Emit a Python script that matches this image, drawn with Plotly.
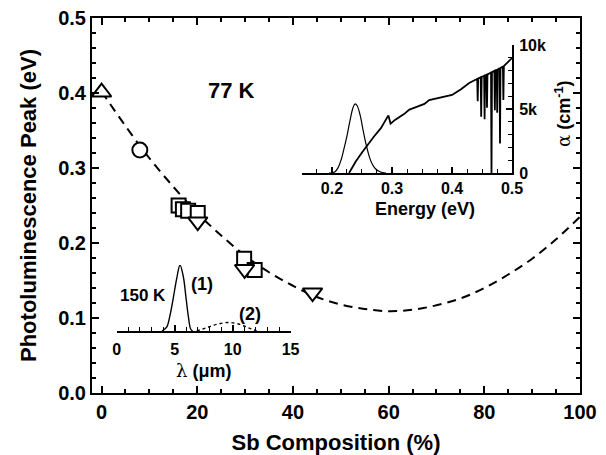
import plotly.graph_objects as go

# ---------------- main data ----------------
tri_up_x = [0.0]
tri_up_y = [0.401]
circle_x = [8.0]
circle_y = [0.324]
square_x = [16.1, 17.0, 18.1, 20.1, 29.8, 32.0]
square_y = [0.250, 0.245, 0.243, 0.240, 0.179, 0.164]
tri_dn_x = [20.1, 29.9, 44.1]
tri_dn_y = [0.2285, 0.165, 0.1337]

fit_x = [0, 5, 10, 15, 20, 25, 30, 35, 40, 45, 50, 55, 60, 65, 70, 75, 80, 85, 90, 95, 100]
fit_y = [0.402, 0.356, 0.313, 0.275, 0.240, 0.210, 0.183, 0.161, 0.143, 0.128, 0.118,
         0.112, 0.109, 0.111, 0.117, 0.126, 0.140, 0.158, 0.179, 0.205, 0.235]

x_ticks = [0, 20, 40, 60, 80, 100]
y_ticks = [0.0, 0.1, 0.2, 0.3, 0.4, 0.5]

# ---------------- inset 1: absorption / PL vs energy ----------------
abs_energy = [0.2285, 0.2340, 0.2396, 0.2500, 0.2590, 0.2700, 0.2815, 0.2900, 0.2940, 0.2976,
              0.3050, 0.3200, 0.3290, 0.3400, 0.3540, 0.3620, 0.3800, 0.4000, 0.4150, 0.4286,
              0.4400, 0.4420, 0.4428, 0.4436, 0.4478, 0.4486, 0.4494, 0.4535, 0.4543, 0.4551,
              0.4575, 0.4583, 0.4591, 0.4650, 0.4658, 0.4666, 0.4706, 0.4714, 0.4722, 0.4745,
              0.4753, 0.4761, 0.4792, 0.4800, 0.4808, 0.4848, 0.4856, 0.4864, 0.5000]
abs_alpha = [0, 450, 900, 1600, 2200, 2850, 3500, 4200, 4500, 3850,
             4150, 4600, 4950, 5150, 5400, 5700, 5900, 6100, 6550, 7030,
             7300, 7350, 5600, 7380, 7480, 4400, 7500, 7600, 4200, 7620,
             7680, 5100, 7700, 7850, 0, 7870, 7980, 4900, 8000, 8070,
             4700, 8090, 8180, 2300, 8200, 8330, 5700, 8350, 8980]

pl_energy = [0.195, 0.200, 0.205, 0.210, 0.215, 0.220, 0.225, 0.230, 0.235, 0.2385,
             0.242, 0.247, 0.252, 0.257, 0.262, 0.267, 0.272, 0.280, 0.290]
pl_signal = [0, 20, 100, 400, 1000, 1900, 2900, 4100, 5100, 5400,
             5250, 4500, 3300, 2200, 1300, 700, 350, 100, 0]

e_ticks = [0.2, 0.3, 0.4, 0.5]
a_ticks = [0, 5000, 10000]
a_ticktext = ["0", "5k", "10k"]

# ---------------- inset 2: PL spectra vs wavelength ----------------
lam1 = [3.9, 4.31, 4.6, 4.88, 5.17, 5.46, 5.75, 5.98, 6.18, 6.38, 6.55]
pl1 = [0, 0.06, 0.24, 0.5, 0.79, 1.0, 0.82, 0.5, 0.22, 0.03, 0]
lam2 = [6.9, 7.76, 8.62, 9.63, 10.63, 11.35, 12.07]
pl2 = [0, 0.05, 0.10, 0.13, 0.10, 0.05, 0.0]
lam_ticks = [0, 5, 10, 15]

FONT = "Liberation Sans, Arial, sans-serif"
BLACK = "#000000"

fig = go.Figure()

# dashed fit curve
fig.add_trace(go.Scatter(x=fit_x, y=fit_y, mode="lines", line_shape="spline",
                         line=dict(color=BLACK, width=2, dash="9px,6px"),
                         hoverinfo="skip", showlegend=False))

mk_line = dict(color=BLACK, width=2)
fig.add_trace(go.Scatter(x=tri_up_x, y=tri_up_y, mode="markers", showlegend=False,
                         marker=dict(symbol="triangle-up", size=17, color="white", line=mk_line)))
fig.add_trace(go.Scatter(x=circle_x, y=circle_y, mode="markers", showlegend=False,
                         marker=dict(symbol="circle", size=15, color="white", line=mk_line)))
fig.add_trace(go.Scatter(x=square_x, y=square_y, mode="markers", showlegend=False,
                         marker=dict(symbol="square", size=14, color="white", line=mk_line)))
fig.add_trace(go.Scatter(x=tri_dn_x, y=tri_dn_y, mode="markers", showlegend=False,
                         marker=dict(symbol="triangle-down", size=17, color="white", line=mk_line)))

# inset 1 traces
fig.add_trace(go.Scatter(x=pl_energy, y=pl_signal, xaxis="x2", yaxis="y2", mode="lines",
                         line_shape="spline", line=dict(color=BLACK, width=1.2),
                         showlegend=False, hoverinfo="skip"))
fig.add_trace(go.Scatter(x=abs_energy, y=abs_alpha, xaxis="x2", yaxis="y2", mode="lines",
                         line=dict(color=BLACK, width=1.8),
                         showlegend=False, hoverinfo="skip"))

# inset 2 traces
fig.add_trace(go.Scatter(x=lam1, y=pl1, xaxis="x3", yaxis="y3", mode="lines",
                         line_shape="spline", line=dict(color=BLACK, width=1.4),
                         showlegend=False, hoverinfo="skip"))
fig.add_trace(go.Scatter(x=lam2, y=pl2, xaxis="x3", yaxis="y3", mode="lines",
                         line_shape="spline", line=dict(color=BLACK, width=1.4, dash="dot"),
                         showlegend=False, hoverinfo="skip"))

main_axis_common = dict(showline=True, linecolor=BLACK, linewidth=2, mirror="ticks",
                        ticks="inside", ticklen=7, tickwidth=2, tickcolor=BLACK,
                        showgrid=False, zeroline=False, automargin=False,
                        tickfont=dict(family=FONT, size=20, color=BLACK, weight="bold"))

inset_common = dict(showline=True, linecolor=BLACK, linewidth=2, ticks="inside", ticklen=6,
                    tickwidth=1.5, tickcolor=BLACK, showgrid=False, zeroline=False,
                    automargin=False,
                    tickfont=dict(family=FONT, size=16, color=BLACK, weight="bold"))

fig.update_layout(
    width=606, height=455,
    margin=dict(l=92, r=26, t=18, b=62),
    paper_bgcolor="white", plot_bgcolor="rgba(0,0,0,0)",
    font=dict(family=FONT, color=BLACK, weight="bold"),
    xaxis=dict(range=[-2, 100], tickvals=x_ticks, ticktext=[str(v) for v in x_ticks],
               minor=dict(dtick=5, ticks="inside", ticklen=4, tickwidth=1.5, tickcolor=BLACK),
               title=dict(text="Sb Composition (%)", standoff=15,
                          font=dict(family=FONT, size=22, color=BLACK, weight="bold")),
               **main_axis_common),
    yaxis=dict(range=[0, 0.5], tickvals=y_ticks, ticktext=["%.1f" % v for v in y_ticks],
               minor=dict(dtick=0.02, ticks="inside", ticklen=4, tickwidth=1.5, tickcolor=BLACK),
               title=dict(text="Photoluminescence Peak (eV)", standoff=15,
                          font=dict(family=FONT, size=22, color=BLACK, weight="bold")),
               **main_axis_common),
    xaxis2=dict(domain=[0.4303, 0.8607], anchor="y2", range=[0.15, 0.5],
                tickvals=e_ticks, ticktext=["%.1f" % v for v in e_ticks],
                minor=dict(dtick=0.025, tick0=0.15, ticks="inside", ticklen=4, tickwidth=1.2, tickcolor=BLACK),
                **inset_common),
    yaxis2=dict(domain=[0.5867, 0.928], anchor="x2", side="right", range=[0, 10000],
                tickvals=a_ticks, ticktext=a_ticktext, ticklabelstandoff=2,
                minor=dict(dtick=1000, ticks="inside", ticklen=4, tickwidth=1.2, tickcolor=BLACK),
                **inset_common),
    xaxis3=dict(domain=[0.0506, 0.407], anchor="y3", range=[0, 15],
                tickvals=lam_ticks, ticktext=[str(v) for v in lam_ticks],
                ticklabelstandoff=3,
                minor=dict(dtick=1, ticks="inside", ticklen=4, tickwidth=1.2, tickcolor=BLACK),
                **inset_common),
    yaxis3=dict(domain=[0.1653, 0.3413], anchor="x3", range=[0, 1], visible=False),
)

ann_font = dict(family=FONT, color=BLACK, weight="bold")


def note(x, y, text, size, xref="x", yref="y", angle=0):
    fig.add_annotation(x=x, y=y, xref=xref, yref=yref, text=text, showarrow=False,
                       xanchor="center", yanchor="middle", textangle=angle,
                       font=dict(size=size, **ann_font))


note(27.1, 0.404, "77 K", 22)
note(8.7, 0.130, "150 K", 17)
note(20.9, 0.1453, "(1)", 18)
note(31.0, 0.1053, "(2)", 18)
# inset axis titles
note(0.682, 0.4907, "Energy (eV)", 18, "paper", "paper")
note(0.965, 0.744, '<span style="font-family:DejaVu Serif;font-weight:normal">α</span> (cm<sup>-1</sup>)',
     18, "paper", "paper", -90)
note(0.2288, 0.059, '<span style="font-family:DejaVu Serif;font-weight:normal">λ</span> (μm)',
     18, "paper", "paper")

fig.write_html("out.html", config={"displayModeBar": False},
               post_script="document.body.style.margin='0';document.body.style.overflow='hidden';")
